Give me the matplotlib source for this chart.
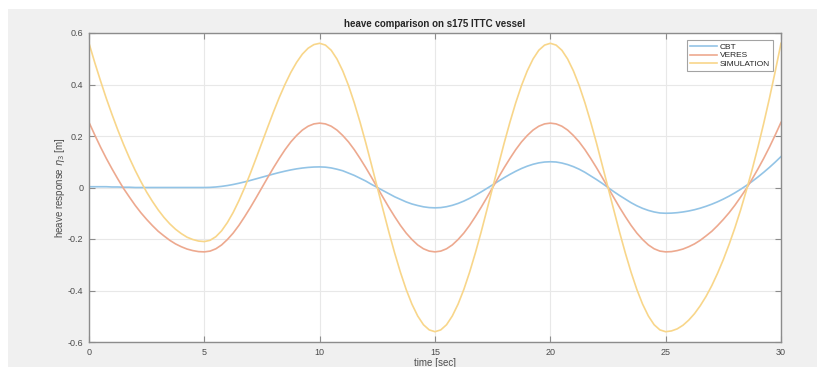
import matplotlib
matplotlib.use("Agg")
import matplotlib.pyplot as plt
import numpy as np
from matplotlib.patches import Rectangle

plt.rcParams['font.family'] = ['Liberation Sans', 'DejaVu Sans']

# time axis [sec], sampled every 0.25 s (121 samples)
time = np.linspace(0, 30, 121)

cbt = [
    # 0 - 5 s
    0.003, 0.003, 0.003, 0.003, 0.002, 0.002, 0.001, 0.001, 0.0, 0.0, 0.0,
    0.0, 0.0, 0.0, 0.0, 0.0, 0.0, 0.0, 0.0, 0.0, 0.0,
    # 5 - 10 s
    0.0005, 0.002, 0.0044, 0.0076, 0.0117, 0.0165, 0.0218, 0.0276, 0.0338, 0.04,
    0.0462, 0.0524, 0.0582, 0.0635, 0.0683, 0.0724, 0.0756, 0.078, 0.0795, 0.08,
    # 10 - 15 s
    0.079, 0.076, 0.071, 0.065, 0.056, 0.047, 0.036, 0.025, 0.012, 0.0,
    -0.012, -0.024, -0.036, -0.046, -0.056, -0.064, -0.070, -0.075, -0.078, -0.079,
    # 15 - 20 s
    -0.078, -0.0746, -0.0692, -0.0619, -0.0528, -0.0421, -0.0301, -0.0172, -0.0035, 0.0105,
    0.0245, 0.0382, 0.0511, 0.0631, 0.0738, 0.0829, 0.0902, 0.0956, 0.0989, 0.1,
    # 20 - 25 s
    0.099, 0.095, 0.089, 0.081, 0.071, 0.059, 0.045, 0.031, 0.016, 0.0,
    -0.016, -0.031, -0.045, -0.059, -0.071, -0.081, -0.089, -0.095, -0.099, -0.1,
    # 25 - 30 s
    -0.0995, -0.0978, -0.095, -0.0912, -0.0863, -0.0802, -0.073, -0.0648, -0.0555, -0.045,
    -0.0335, -0.0208, -0.007, 0.0078, 0.0237, 0.0408, 0.059, 0.0782, 0.0986, 0.12,
]

veres = [
    # 0 - 5 s
    0.253, 0.204, 0.157, 0.113, 0.072, 0.033, -0.004, -0.037, -0.069, -0.098, -0.124,
    -0.148, -0.170, -0.188, -0.205, -0.219, -0.230, -0.239, -0.245, -0.249, -0.25,
    # 5 - 10 s
    -0.247, -0.238, -0.223, -0.202, -0.177, -0.147, -0.113, -0.077, -0.039, 0.0,
    0.039, 0.077, 0.113, 0.147, 0.177, 0.202, 0.223, 0.238, 0.247, 0.25,
    # 10 - 15 s
    0.247, 0.238, 0.223, 0.202, 0.177, 0.147, 0.113, 0.077, 0.039, 0.0,
    -0.039, -0.077, -0.113, -0.147, -0.177, -0.202, -0.223, -0.238, -0.247, -0.25,
    # 15 - 20 s
    -0.247, -0.238, -0.223, -0.202, -0.177, -0.147, -0.113, -0.077, -0.039, 0.0,
    0.039, 0.077, 0.113, 0.147, 0.177, 0.202, 0.223, 0.238, 0.247, 0.25,
    # 20 - 25 s
    0.247, 0.238, 0.223, 0.202, 0.177, 0.147, 0.113, 0.077, 0.039, 0.0,
    -0.039, -0.077, -0.113, -0.147, -0.177, -0.202, -0.223, -0.238, -0.247, -0.25,
    # 25 - 30 s
    -0.249, -0.245, -0.239, -0.230, -0.219, -0.205, -0.188, -0.170, -0.148, -0.124,
    -0.098, -0.069, -0.037, -0.004, 0.033, 0.072, 0.113, 0.157, 0.204, 0.253,
]

simulation = [
    # 0 - 5 s
    0.56, 0.485, 0.414, 0.346, 0.283, 0.223, 0.167, 0.115, 0.067, 0.023, -0.018,
    -0.054, -0.087, -0.116, -0.141, -0.162, -0.179, -0.193, -0.202, -0.208, -0.21,
    # 5 - 10 s
    -0.205, -0.191, -0.168, -0.136, -0.097, -0.051, 0.0, 0.056, 0.115, 0.175,
    0.235, 0.294, 0.35, 0.401, 0.447, 0.486, 0.518, 0.541, 0.555, 0.56,
    # 10 - 15 s
    0.553, 0.533, 0.499, 0.453, 0.396, 0.329, 0.254, 0.173, 0.087, 0.0,
    -0.087, -0.173, -0.254, -0.329, -0.396, -0.453, -0.499, -0.533, -0.553, -0.56,
    # 15 - 20 s
    -0.553, -0.533, -0.499, -0.453, -0.396, -0.329, -0.254, -0.173, -0.087, 0.0,
    0.087, 0.173, 0.254, 0.329, 0.396, 0.453, 0.499, 0.533, 0.553, 0.56,
    # 20 - 25 s
    0.553, 0.533, 0.499, 0.453, 0.396, 0.329, 0.254, 0.173, 0.087, 0.0,
    -0.087, -0.173, -0.254, -0.329, -0.396, -0.453, -0.499, -0.533, -0.553, -0.56,
    # 25 - 30 s
    -0.557, -0.549, -0.535, -0.515, -0.49, -0.459, -0.423, -0.381, -0.333, -0.28,
    -0.221, -0.157, -0.087, -0.011, 0.07, 0.157, 0.249, 0.347, 0.451, 0.56,
]

series_names = ['CBT', 'VERES', 'SIMULATION']
colors = ['#93c4e6', '#eda98f', '#f8d68a']

xticks = [0, 5, 10, 15, 20, 25, 30]
yticks = [-0.6, -0.4, -0.2, 0, 0.2, 0.4, 0.6]
ytick_labels = ['-0.6', '-0.4', '-0.2', '0', '0.2', '0.4', '0.6']

W, H = 817, 367
fig = plt.figure(figsize=(W / 100, H / 100), dpi=100)
fig.patch.set_facecolor('white')
# grey MATLAB-like figure background (white strip at top/left)
fig.patches.append(Rectangle((8 / W, 0), 1 - 8 / W, 1 - 9 / H,
                             transform=fig.transFigure, facecolor='#f0f0f0',
                             edgecolor='none', zorder=-10))

ax = fig.add_axes([89 / W, (H - 342) / H, (781 - 89) / W, (342 - 33) / H])
ax.set_zorder(5)
ax.set_facecolor('white')

for vals, name, c in zip([cbt, veres, simulation], series_names, colors):
    ax.plot(time, vals, color=c, lw=1.2, label=name)

ax.set_xlim(0, 30)
ax.set_ylim(-0.6, 0.6)
ax.set_xticks(xticks)
ax.set_xticklabels([str(v) for v in xticks])
ax.set_yticks(yticks)
ax.set_yticklabels(ytick_labels)
ax.grid(True, color='#e8e8e8', lw=0.8)
ax.set_axisbelow(True)

for s in ax.spines.values():
    s.set_color('#8c8c8c')
    s.set_linewidth(1.0)
ax.tick_params(direction='in', length=4, width=0.8, color='#8c8c8c',
               labelsize=6.5, labelcolor='#4d4d4d', top=True, right=True, pad=4)

ax.set_title('heave comparison on s175 ITTC vessel', fontsize=7, fontweight='bold',
             color='#262626', pad=4)
ax.set_xlabel('time [sec]', fontsize=7, color='#4d4d4d', labelpad=1)
ax.set_ylabel(r'heave response $\eta_3$ [m]', fontsize=7, color='#4d4d4d', labelpad=0.5)

leg = ax.legend(loc='upper right', bbox_to_anchor=(773 / W, (H - 40) / H),
                bbox_transform=fig.transFigure, fontsize=6, frameon=True,
                fancybox=False, handlelength=3.2, handletextpad=0.4,
                borderpad=0.35, labelspacing=0.1, borderaxespad=0)
leg.get_frame().set_edgecolor('#8c8c8c')
leg.get_frame().set_linewidth(0.8)
for t in leg.get_texts():
    t.set_color('#262626')

fig.savefig('out.png', dpi=100, facecolor=fig.get_facecolor())
